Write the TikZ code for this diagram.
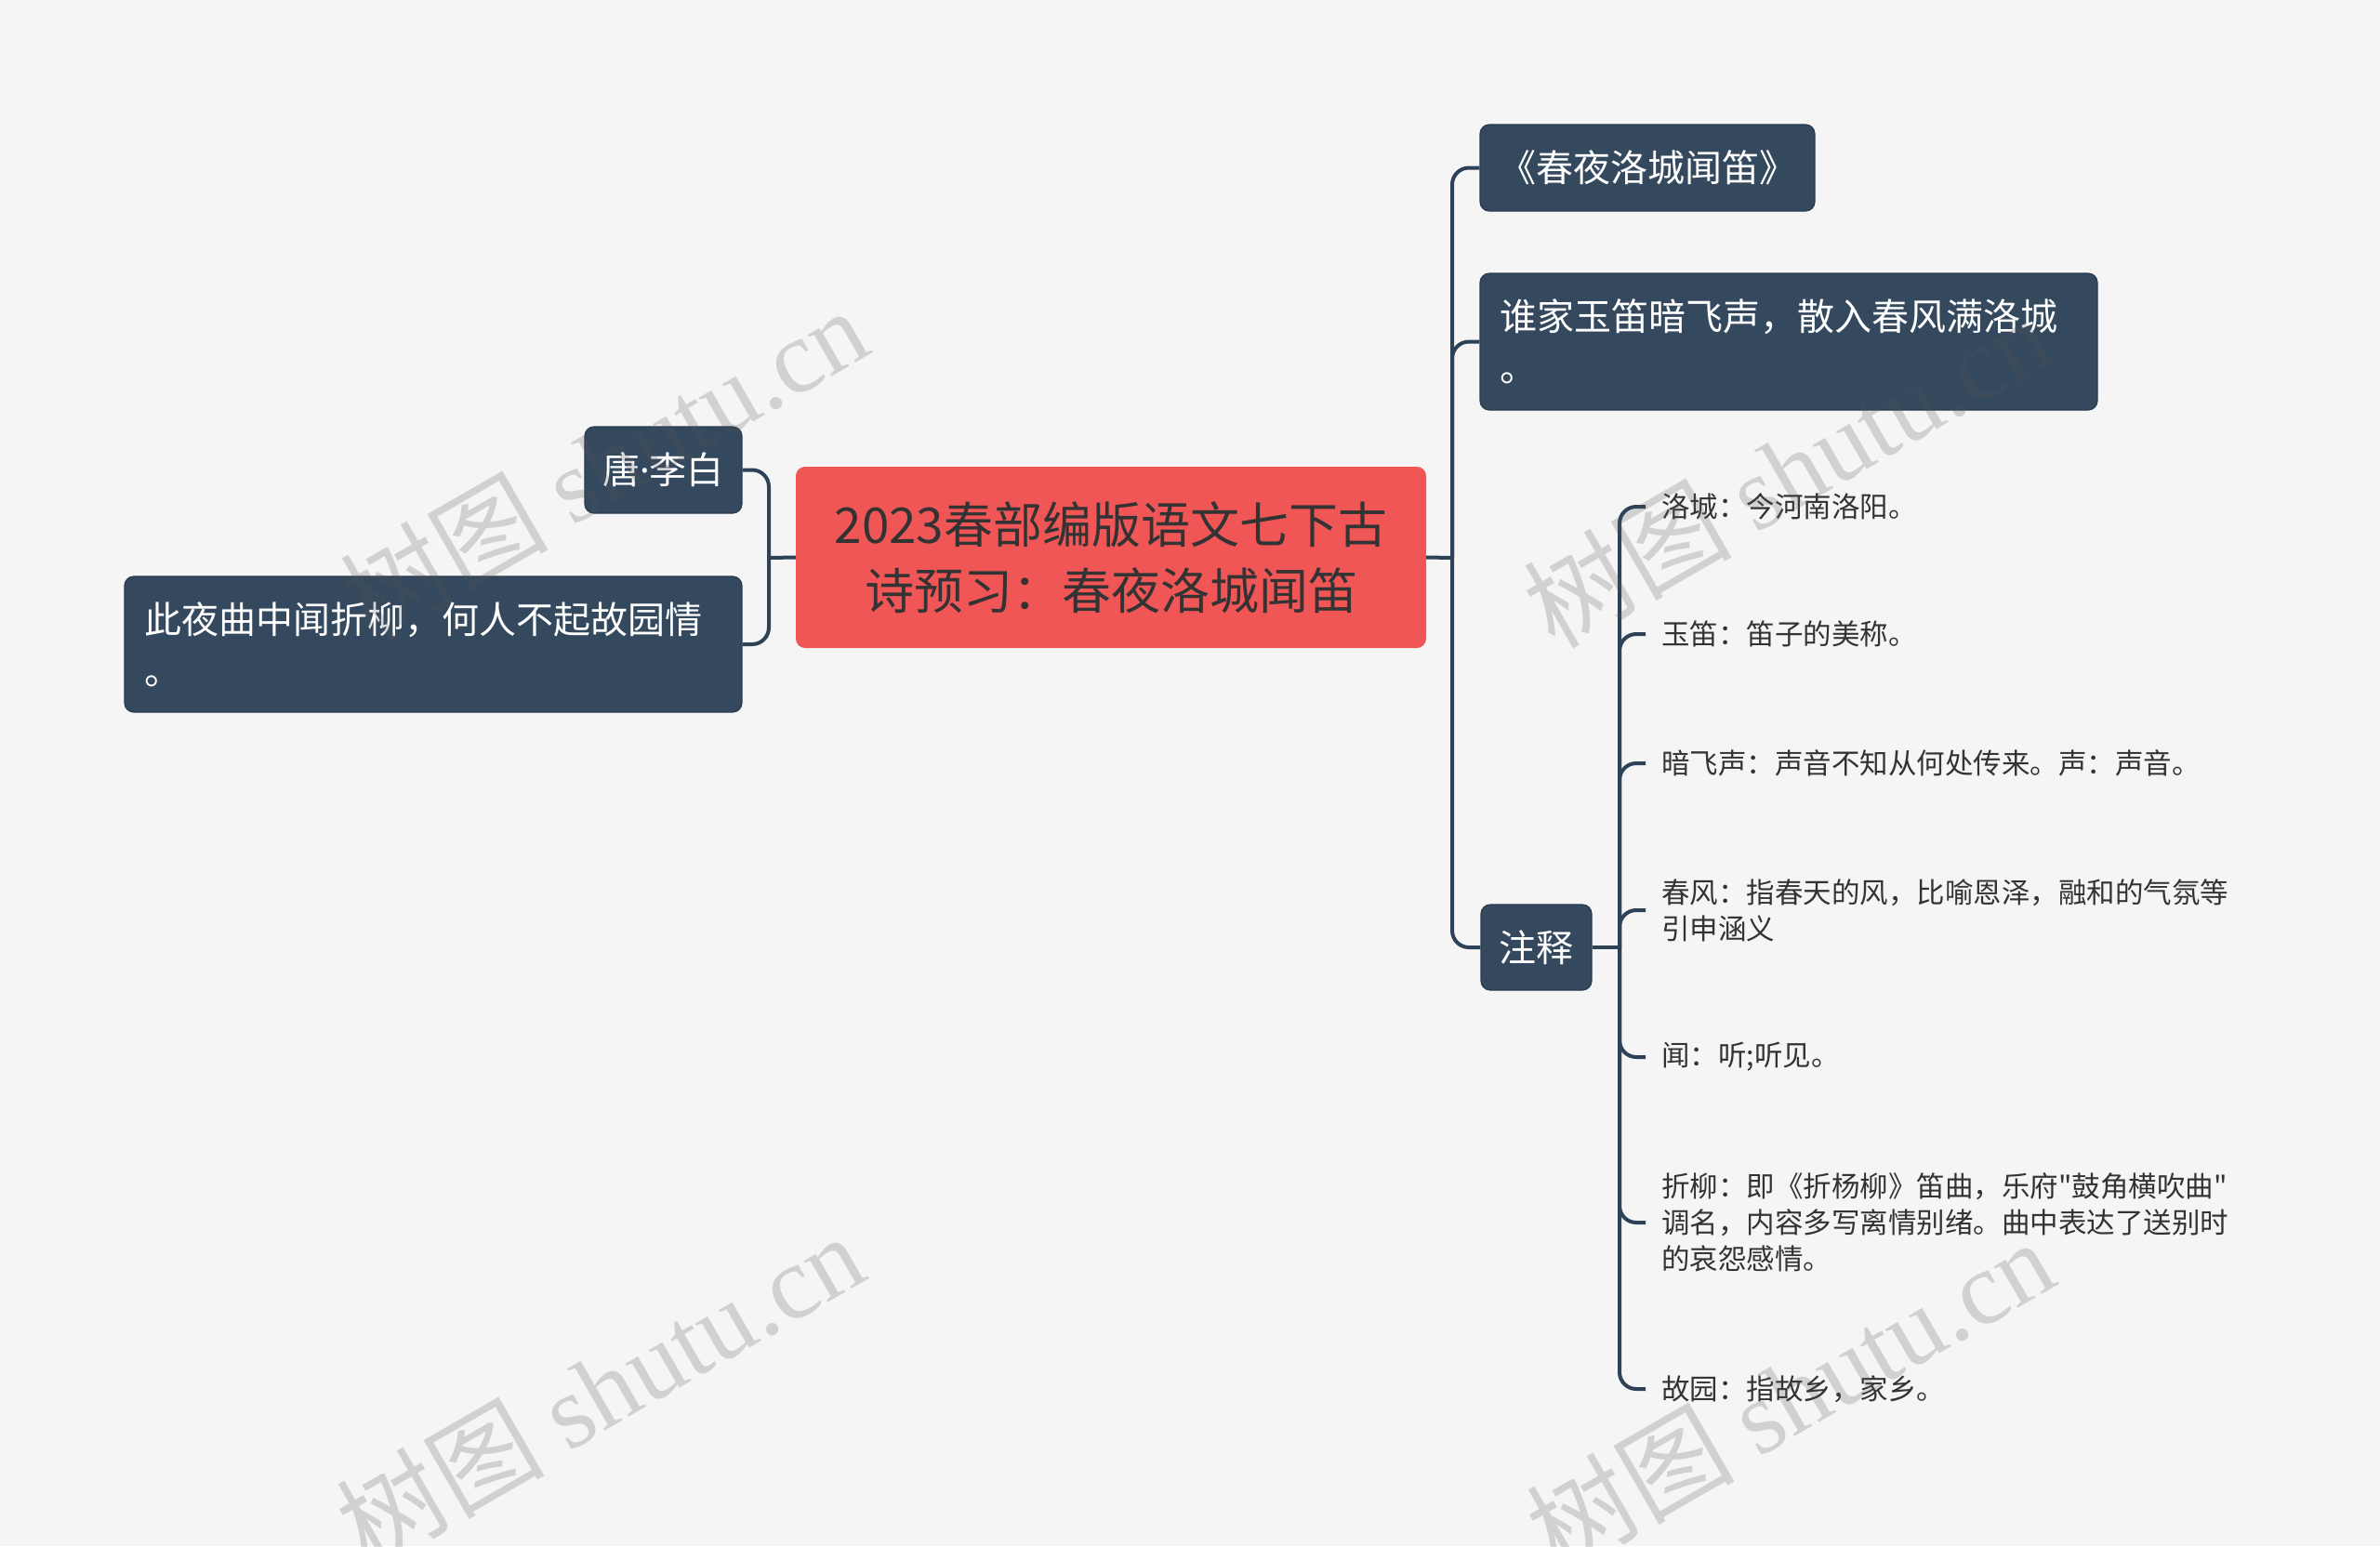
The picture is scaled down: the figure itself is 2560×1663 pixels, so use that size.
\documentclass[tikz,border=0pt]{standalone}
\usepackage{fontspec}
\setmainfont{Noto Sans CJK SC}
\newfontfamily\cjkraw{Noto Sans CJK SC}
\newfontfamily\latinsans{Noto Sans}
\newfontfamily\wmlatin{Liberation Serif}
\definecolor{cBg}{HTML}{F5F5F5}
\definecolor{cBlue}{HTML}{34495E}
\definecolor{cBlueD}{HTML}{2A3B4D}
\definecolor{cLine}{HTML}{2E4257}
\definecolor{cRed}{HTML}{F05656}
\definecolor{cTxt}{HTML}{333333}
\definecolor{cWm}{HTML}{555555}
\begin{document}
\begin{tikzpicture}[x=1pt,y=-1pt,
  central/.style={fill=cRed, rounded corners=10pt, text=cTxt, align=center,
    minimum width=678pt, minimum height=195pt, inner sep=0pt,
    font=\fontsize{53}{71}\selectfont},
  topic/.style={fill=cBlue, draw=cBlueD, line width=1.2pt, rounded corners=10pt,
    text=white, inner sep=0pt, font=\fontsize{40}{55}\selectfont},
  topicwide/.style={topic, align=left, inner xsep=21pt},
  note/.style={text=cTxt, anchor=west, inner sep=0pt, align=left,
    font=\cjkraw\fontsize{30.5}{39}\selectfont},
  conn/.style={draw=cLine, line width=4pt},
  rc/.style={conn, rounded corners=18pt},
  wm/.style={text=cWm, opacity=0.22, rotate=30, inner sep=0pt,
    font=\fontsize{112}{112}\selectfont}
]
\fill[cBg] (0,0) rectangle (2560,1663);
\useasboundingbox (0,0) rectangle (2560,1663);

% junction coordinates
\coordinate (lj) at (827,600);
\coordinate (rj) at (1562,600);
\coordinate (nj) at (1742,1019);

% central
\node[central] (cen) at (1195,599.5) {2023春部编版语文七下古\\诗预习：春夜洛城闻笛};

% left
\node[topic, minimum width=169pt, minimum height=93pt] (tang) at (713.5,505.5) {唐{\latinsans ·}李白};
\node[topicwide, text width=622pt, minimum height=146pt] (ci) at (466,693) {此夜曲中闻折柳，何人不起故园情\\。};

% right
\node[topic, minimum width=360pt, minimum height=93pt] (poem) at (1772,180.5) {《春夜洛城闻笛》};
\node[topicwide, text width=622pt, minimum height=147pt] (verse) at (1924,367.5) {谁家玉笛暗飞声，散入春风满洛城\\。};
\node[topic, minimum width=119pt, minimum height=92pt] (zs) at (1652.5,1019) {注释};

% notes
\node[note] (n1) at (1787,545) {洛城：今河南洛阳。};
\node[note] (n2) at (1787,682) {玉笛：笛子的美称。};
\node[note] (n3) at (1787,821) {暗飞声：声音不知从何处传来。声：声音。};
\node[note] (n4) at (1787,979) {春风：指春天的风，比喻恩泽，融和的气氛等\\引申涵义};
\node[note] (n5) at (1787,1137) {闻：听;听见。};
\node[note] (n6) at (1787,1315) {折柳：即《折杨柳》笛曲，乐府"鼓角横吹曲"\\调名，内容多写离情别绪。曲中表达了送别时\\的哀怨感情。};
\node[note] (n7) at (1787,1494) {故园：指故乡，家乡。};

% connectors left
\draw[conn] (cen.west) -- (lj);
\draw[rc] (lj) |- (tang.east);
\draw[rc] (lj) |- (ci.east);

% connectors right
\draw[conn] (cen.east) -- (rj);
\draw[rc] (rj) |- (poem.west);
\draw[rc] (rj) |- (verse.west);
\draw[rc] (rj) |- (zs.west);

% notes connectors
\draw[conn] (zs.east) -- (nj);
\foreach \n in {n1,n2,n3,n4,n5,n6,n7}{
  \draw[rc] (nj) |- ([xshift=-17pt]\n.west);
}

% watermarks
\node[wm] (wm1) at (649,498) {树图 {\wmlatin shutu.cn}};
\node[wm] (wm2) at (1922,506) {树图 {\wmlatin shutu.cn}};
\node[wm] (wm3) at (645,1494) {树图 {\wmlatin shutu.cn}};
\node[wm] (wm4) at (1925,1500) {树图 {\wmlatin shutu.cn}};
\end{tikzpicture}
\end{document}
